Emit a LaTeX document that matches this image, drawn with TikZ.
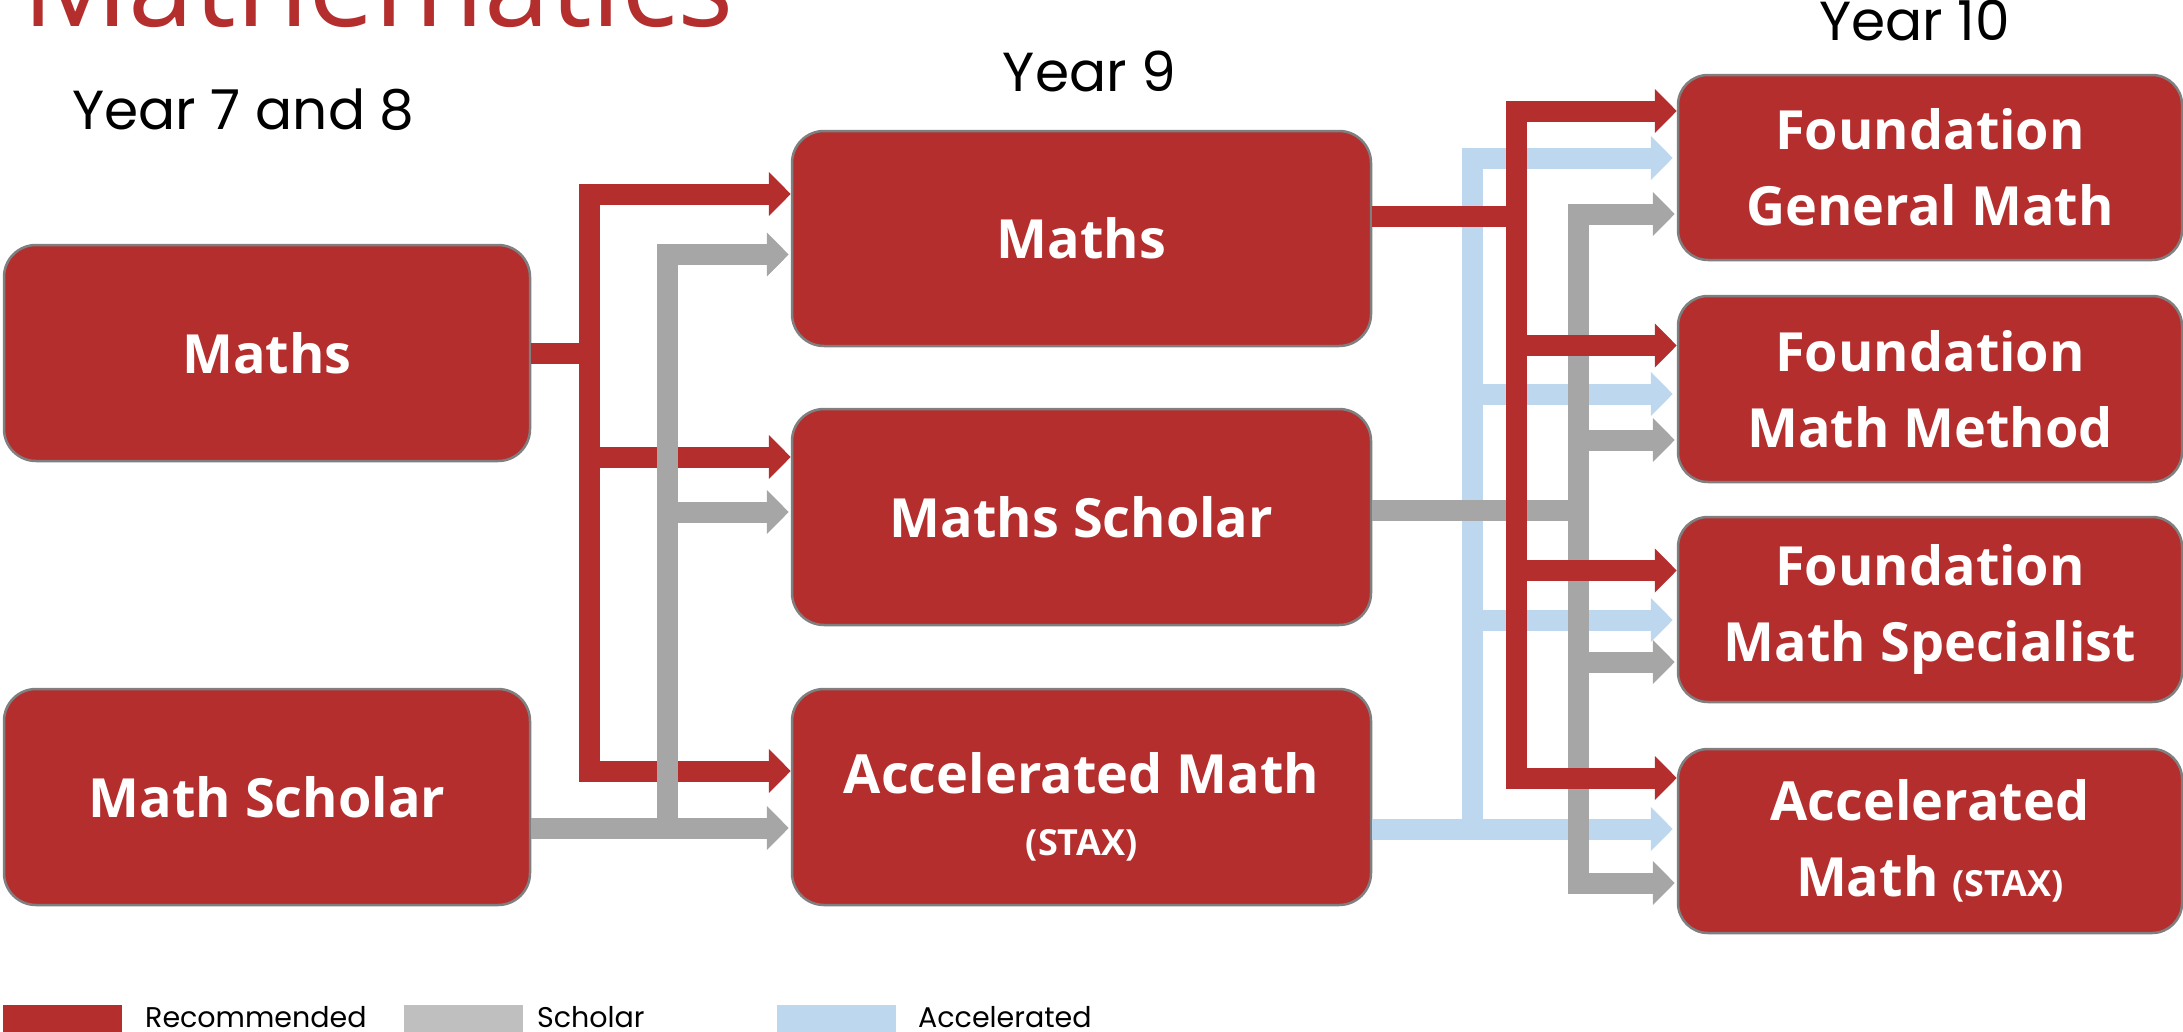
\documentclass[tikz,border=0pt]{standalone}
\usepackage{fontspec}
\setmainfont{Open Sans}
\newfontfamily\headfam{Poppins}
\usetikzlibrary{arrows.meta}
\definecolor{cred}{HTML}{B42E2E}
\definecolor{cgray}{HTML}{A6A6A6}
\definecolor{cblue}{HTML}{BDD7EE}
\definecolor{clgray}{HTML}{BFBFBF}
\definecolor{cborder}{HTML}{7F7F7F}
\newcommand\boxfnt{\fontsize{54}{76}\selectfont\bfseries}
\newcommand\staxfnt{\fontsize{36}{40}\selectfont\bfseries}
\newcommand\headfnt{\headfam\fontsize{55}{60}\selectfont}
\newcommand\legfnt{\headfam\fontsize{28.5}{34}\selectfont}
\newcommand\titlefnt{\fontsize{118}{130}\selectfont}
\begin{document}
\begin{tikzpicture}[x=1pt,y=-1pt,
  box/.style={draw=cborder, line width=2.5pt, fill=cred, rounded corners=32pt,
    text=white, font=\boxfnt, align=center, inner sep=0pt},
  lbox/.style={box, minimum width=526pt, minimum height=216pt},
  mbox/.style={box, minimum width=579pt, minimum height=215pt},
  rbox/.style={box, minimum width=504pt, minimum height=185pt, rounded corners=30pt},
  tip/.style={-{Triangle[length=22pt,width=43pt]}},
  redln/.style={draw=cred, line width=21pt},
  grayln/.style={draw=cgray, line width=21pt},
  blueln/.style={draw=cblue, line width=21pt},
  redarr/.style={redln, tip},
  grayarr/.style={grayln, tip, shorten >=2pt},
  bluearr/.style={blueln, tip, shorten >=4pt},
  head/.style={font=\headfnt, text=black, anchor=base, inner sep=0pt},
  legtext/.style={font=\legfnt, text=black, anchor=base west, inner sep=0pt},
  legbox/.style={minimum width=119pt, minimum height=40pt, anchor=north west, inner sep=0pt}
]
\useasboundingbox (0,0) rectangle (2183,1031);

% title and headings
\node[font=\titlefnt, text=cred, anchor=base west, inner sep=0pt] (title) at (22,26) {Mathematics};
\node[head] (h78) at (243.5,129) {Year 7 and 8};
\node[head] (h9) at (1089.5,91) {Year 9};
\node[head] (h10) at (1914.5,40) {Year 10};

% boxes
\node[lbox] (ma7) at (267,353) {Maths};
\node[lbox] (ms7) at (267,797) {Math Scholar};
\node[mbox] (m9) at (1081.5,238.5) {Maths};
\node[mbox, minimum height=216pt] (s9) at (1081.5,517) {Maths Scholar};
\node[mbox, minimum height=216pt] (a9) at (1081.5,797) {\rule{0pt}{60pt}Accelerated Math\\[-14pt]{\staxfnt (STAX)}};
\node[rbox] (f1) at (1930,167.5) {Foundation\\General Math};
\node[rbox, minimum height=186pt] (f2) at (1930,389) {Foundation\\Math Method};
\node[rbox] (f3) at (1930,609.5) {Foundation\\Math Specialist};
\node[rbox, minimum height=184pt] (f4) at (1930,841) {Accelerated\\Math {\staxfnt (STAX)}};

% left red
\coordinate (lrT) at (589,194);
\coordinate (lrM) at (589,457);
\coordinate (lrB) at (589,771);
\draw[redln] (ma7.east) -- (ma7.east -| lrM);
\draw[redarr] (lrM) -- (lrT) -- (lrT -| m9.west);
\draw[redarr] (lrM) -- (lrB) -- (lrB -| a9.west);
\draw[redarr] (lrM) -- (lrM -| s9.west);

% left gray
\coordinate (lgT) at (667,254.5);
\coordinate (lgM) at (667,512);
\coordinate (lgB) at (667,828);
\draw[grayarr] (ms7.east |- lgB) -- (lgB -| a9.west);
\draw[grayarr] (lgB) -- (lgT) -- (lgT -| m9.west);
\draw[grayarr] (lgM) -- (lgM -| s9.west);

% right blue
\coordinate (rbT) at (1472,158);
\coordinate (rb2) at (1472,394);
\coordinate (rb3) at (1472,620);
\coordinate (rbB) at (1472,829);
\draw[bluearr] (a9.east |- rbB) -- (rbB -| f4.west);
\draw[bluearr] (rbB) -- (rbT) -- (rbT -| f1.west);
\draw[bluearr] (rb2) -- (rb2 -| f2.west);
\draw[bluearr] (rb3) -- (rb3 -| f3.west);

% right gray
\coordinate (rgS) at (1578,510);
\coordinate (rgT) at (1578,214);
\coordinate (rg2) at (1578,440);
\coordinate (rg3) at (1578,662);
\coordinate (rgB) at (1578,883);
\draw[grayln] (s9.east |- rgS) -- (rgS);
\draw[grayarr] (rgS) -- (rgT) -- (rgT -| f1.west);
\draw[grayarr] (rgS) -- (rgB) -- (rgB -| f4.west);
\draw[grayarr] (rg2) -- (rg2 -| f2.west);
\draw[grayarr] (rg3) -- (rg3 -| f3.west);

% right red
\coordinate (rrS) at (1516,216);
\coordinate (rrT) at (1516,111);
\coordinate (rr2) at (1516,345.5);
\coordinate (rr3) at (1516,570.5);
\coordinate (rrB) at (1516,778);
\draw[redln] (m9.east |- rrS) -- (rrS);
\draw[redarr] (rrS) -- (rrT) -- (rrT -| f1.west);
\draw[redarr] (rrS) -- (rrB) -- (rrB -| f4.west);
\draw[redarr] (rr2) -- (rr2 -| f2.west);
\draw[redarr] (rr3) -- (rr3 -| f3.west);

% legend
\node[legbox, fill=cred] (k1) at (3,1005) {};
\node[legtext] (t1) at (145,1027) {Recommended};
\node[legbox, fill=clgray] (k2) at (404,1005) {};
\node[legtext] (t2) at (537,1027) {Scholar};
\node[legbox, fill=cblue] (k3) at (777,1005) {};
\node[legtext] (t3) at (918,1027) {Accelerated};
\end{tikzpicture}
\end{document}
